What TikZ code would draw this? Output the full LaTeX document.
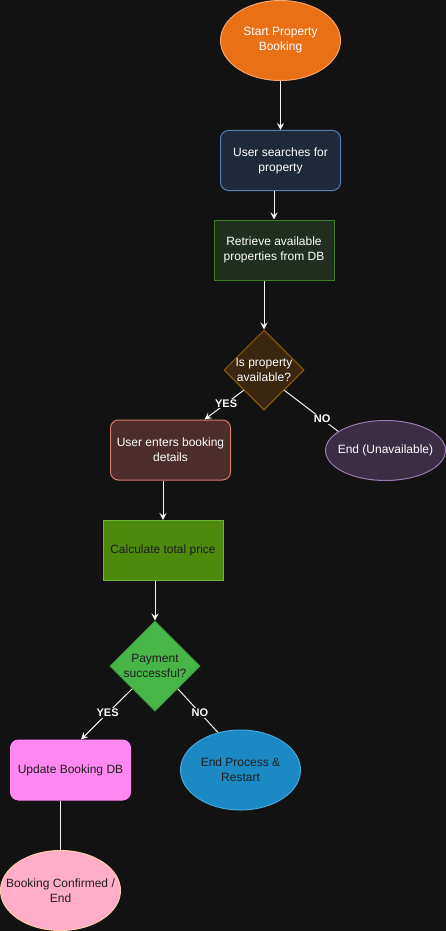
\documentclass[tikz,border=0pt]{standalone}
\usepackage{fontspec}
\setmainfont{Liberation Sans}
\usetikzlibrary{shapes.geometric,arrows.meta}
\definecolor{bg}{HTML}{121212}
\definecolor{edge}{HTML}{F2F2F2}
\definecolor{ink}{HTML}{1E1E1E}
\definecolor{startfill}{HTML}{E97015}
\definecolor{startline}{HTML}{F4A46A}
\definecolor{searchfill}{HTML}{1E293B}
\definecolor{searchline}{HTML}{5A7DB3}
\definecolor{dbfill}{HTML}{1F2E1E}
\definecolor{dbline}{HTML}{3F7A24}
\definecolor{availfill}{HTML}{3B2710}
\definecolor{availline}{HTML}{8F5B08}
\definecolor{entersfill}{HTML}{4D2C2C}
\definecolor{entersline}{HTML}{D9786F}
\definecolor{unavailfill}{HTML}{3A2D44}
\definecolor{unavailline}{HTML}{9A7AB0}
\definecolor{calcfill}{HTML}{4D8A0C}
\definecolor{calcline}{HTML}{6BB62E}
\definecolor{payfill}{HTML}{47B547}
\definecolor{payline}{HTML}{3B9A3B}
\definecolor{updatefill}{HTML}{FF88F2}
\definecolor{procfill}{HTML}{1B8AC4}
\definecolor{procline}{HTML}{45A6DC}
\definecolor{donefill}{HTML}{FFADC9}
\definecolor{doneline}{HTML}{FFCBA4}
\begin{document}
\begin{tikzpicture}
[x=1pt, y=-1pt, font=\fontsize{12}{15}\selectfont, line width=1pt,
proc/.style={rectangle, draw, inner sep=0pt, minimum width=120pt, minimum height=60pt, align=center},
rproc/.style={proc, rounded corners=8pt},
term/.style={ellipse, draw, inner sep=0pt, minimum width=120pt, minimum height=80pt},
decision/.style={diamond, draw, inner sep=0pt, minimum size=80pt},
flow/.style={draw=edge, -{Stealth[length=7pt, width=7pt, inset=2.5pt]}},
plain/.style={draw=edge},
choice/.style={font=\fontsize{11}{13}\selectfont\bfseries, text=white, fill=bg, inner sep=1pt}]

\useasboundingbox (0,0) rectangle (446,931);
\fill[bg] (0,0) rectangle (446,931);

\node[term, fill=startfill, draw=startline,
  label={[text=white, align=center]center:Start Property\\Booking}] (start) at (280.5,40.5) {};
\node[rproc, fill=searchfill, draw=searchline, text=white] (search) at (280.5,160.5) {User searches for\\property};
\node[proc, fill=dbfill, draw=dbline, text=white] (retrieve) at (274,250) {Retrieve available\\properties from DB};
\node[decision, fill=availfill, draw=availline,
  label={[text=white, align=center]center:Is property\\available?}] (avail) at (264,370) {};
\node[rproc, fill=entersfill, draw=entersline, text=white] (enters) at (170.5,450) {User enters booking\\details};
\node[term, minimum height=60pt, fill=unavailfill, draw=unavailline,
  label={[text=white]center:End (Unavailable)}] (unavail) at (385.5,450.5) {};
\node[proc, fill=calcfill, draw=calcline, text=ink] (calc) at (163,550.5) {Calculate total price};
\node[decision, minimum size=90pt, fill=payfill, draw=payline,
  label={[text=ink, align=center]center:Payment\\successful?}] (pay) at (155,666) {};
\node[rproc, fill=updatefill, draw=updatefill, text=ink] (update) at (70.5,770) {Update Booking DB};
\node[term, fill=procfill, draw=procline,
  label={[text=ink, align=center]center:End Process \&\\Restart}] (endproc) at (240.5,770) {};
\node[term, fill=donefill, draw=doneline,
  label={[text=ink, align=center]center:Booking Confirmed /\\End}] (confirmed) at (60.5,890.5) {};

\draw[flow] (start) -- (search);
\draw[flow] (search.south -| retrieve.north) -- (retrieve.north);
\draw[flow] (retrieve.south -| avail.north) -- (avail.north);
\draw[flow] (avail.south west) -- ([xshift=34pt]enters.north) node[choice, pos=0.45] {YES};
\draw[plain] (avail.south east) -- (unavail.158) node[choice, pos=0.7] {NO};
\draw[flow] (enters.south -| calc.north) -- (calc.north);
\draw[flow] (calc.south -| pay.north) -- (pay.north);
\draw[flow] (pay.south west) -- ([xshift=10.5pt]update.north) node[choice, pos=0.48] {YES};
\draw[plain] (pay.south east) -- (endproc.121) node[choice, pos=0.55] {NO};
\draw[plain] (update.south -| confirmed.north) -- (confirmed.north);
\end{tikzpicture}
\end{document}
